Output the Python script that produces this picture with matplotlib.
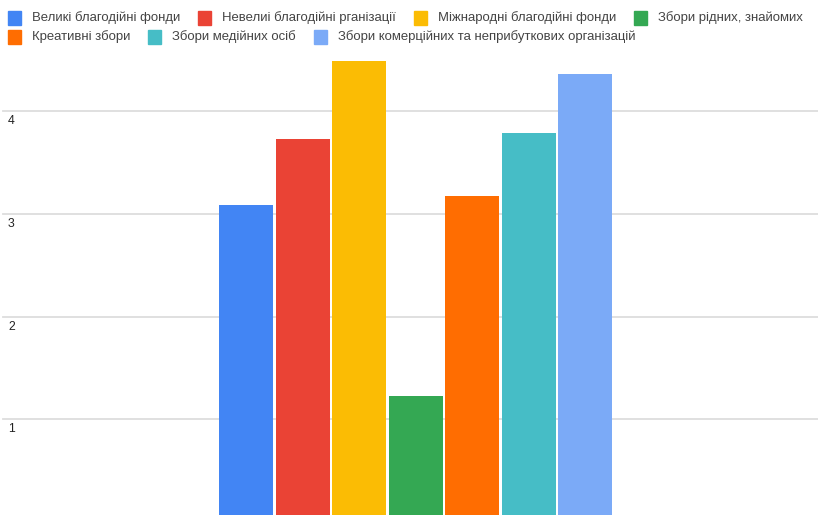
import matplotlib
matplotlib.use("Agg")
import matplotlib.pyplot as plt
from matplotlib.patches import Rectangle
import numpy as np

plt.rcParams['font.family'] = ['Liberation Sans', 'DejaVu Sans']

labels = ["Великі благодійні фонди", "Невелиі благодійні рганізації",
          "Міжнародні благодійні фонди", "Збори рідних, знайомих",
          "Креативні збори", "Збори медійних осіб",
          "Збори комерційних та неприбуткових організацій"]
values = [3.09, 3.73, 4.49, 1.23, 3.17, 3.79, 4.36]
colors = ["#4285F4", "#EA4335", "#FBBC04", "#34A853", "#FF6D01", "#46BDC6", "#7BAAF7"]
yticks = [1, 2, 3, 4]

W, H = 818, 515
fig = plt.figure(figsize=(W / 100, H / 100), dpi=100)

# axes covering pixel rows 50..515, columns 0..818
top_px = 50
ax = fig.add_axes([0, 0, 1, (H - top_px) / H])
unit = 102.7
zero_px = 522
ax.set_ylim((zero_px - H) / unit, (zero_px - top_px) / unit)
pitch = 56.5
x = np.arange(len(values))
ax.set_xlim(-246 / pitch, (W - 246) / pitch)
ax.bar(x, values, width=54 / pitch, color=colors, zorder=3)

for s in ax.spines.values():
    s.set_visible(False)
ax.set_xticks([])
ax.set_yticks([])
for t in yticks:
    ax.axhline(t, color="#dddddd", lw=1.3, zorder=1, xmin=3 / W)
    ax.annotate(str(t), xy=(0, t), xycoords=("axes fraction", "data"),
                xytext=(8, -4), textcoords="offset pixels", ha="left", va="top",
                fontsize=8.8, color="#222222")

# legend flow layout
fig.canvas.draw()
renderer = fig.canvas.get_renderer()
fs = 9.45
sq = 13
xpos, row = 8, 0
rows_y = [18, 37]
for lab, col in zip(labels, colors):
    t = fig.text(0, 0, lab, fontsize=fs, color="#444444")
    w = t.get_window_extent(renderer).width
    t.remove()
    total = sq + 11 + w
    if xpos + total > W - 5:
        row += 1
        xpos = 8
    yc = rows_y[row]
    fig.patches.append(Rectangle((xpos / W, 1 - (yc + sq / 2) / H), sq / W, sq / H,
                                 transform=fig.transFigure, color=col, figure=fig))
    fig.text((xpos + sq + 11) / W, 1 - yc / H, lab, fontsize=fs, color="#444444",
             va="center", ha="left")
    xpos += total + 18

fig.savefig("out.png", dpi=100)
